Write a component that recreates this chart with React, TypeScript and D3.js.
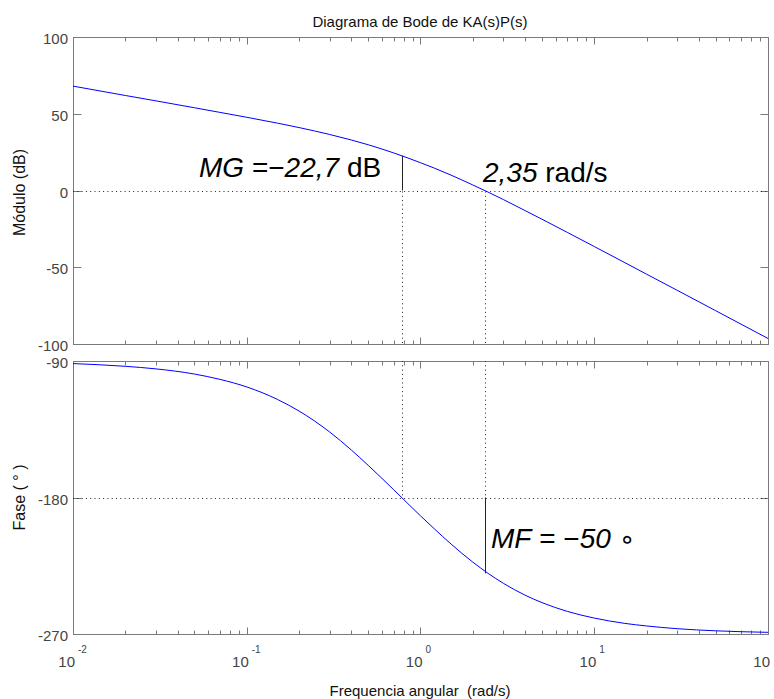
import React from 'react';
import * as d3 from 'd3';

// Frequencies (rad/s) and values
const freq = [0.01, 0.02, 0.03, 0.05, 0.07, 0.1, 0.15, 0.2, 0.3, 0.4, 0.5, 0.7, 1, 1.2, 1.5, 2, 3, 4, 5, 7, 10, 15, 20, 30, 50, 100];
const magDb = [68.0, 61.9, 58.4, 53.9, 50.9, 47.7, 43.9, 41.0, 36.5, 32.9, 29.8, 24.5, 18.1, 14.6, 10.0, 3.6, -5.9, -13.1, -18.7, -27.3, -36.5, -47.0, -54.5, -65.0, -78.3, -96.4];
const phaseDeg = [-91.7, -93.5, -95.2, -98.6, -102.1, -107.1, -115.3, -123.0, -136.8, -148.7, -158.8, -174.8, -192.1, -200.6, -210.7, -222.6, -236.6, -244.4, -249.3, -255.1, -259.5, -263.0, -264.7, -266.5, -267.9, -268.9];

const magTicks = [100, 50, 0, -50, -100];
const phaseTicks = [-90, -180, -270];
const decadeTicks = [0.01, 0.1, 1, 10, 100];
const decadeExponents = ['-2', '-1', '0', '1', '2'];

const phaseCrossFreq = 0.78; // where phase = -180
const magAtPhaseCross = 22.7; // dB
const gainCrossFreq = 2.35; // where |G| = 0 dB
const phaseAtGainCross = -230; // deg

const FONT = '"Liberation Sans", Arial, Helvetica, sans-serif';

export default function App() {
  const W = 774;
  const H = 699;
  const x = d3.scaleLog().domain([0.01, 100]).range([73, 768]);
  const yM = d3.scaleLinear().domain([-100, 100]).range([344, 37]);
  const yP = d3.scaleLinear().domain([-270, -90]).range([634, 361]);

  const minorTicks: number[] = [];
  for (let k = -2; k <= 1; k++) {
    for (let m = 2; m <= 9; m++) minorTicks.push(m * Math.pow(10, k));
  }

  const magLine = d3
    .line<number>()
    .x((_, i) => x(freq[i]))
    .y((d) => yM(d))
    .curve(d3.curveMonotoneX);
  const phaseLine = d3
    .line<number>()
    .x((_, i) => x(freq[i]))
    .y((d) => yP(d))
    .curve(d3.curveMonotoneX);

  const axisColor = '#7a7a7a';
  const tickLabelColor = '#444';
  const r = (v: number) => Math.round(v) + 0.5;

  const panel = (yScale: d3.ScaleLinear<number, number>, ticks: number[], key: string) => {
    const [yb, yt] = yScale.range();
    const x0 = x.range()[0];
    const x1 = x.range()[1];
    return (
      <g key={key}>
        <rect x={r(x0)} y={r(yt)} width={Math.round(x1 - x0)} height={Math.round(yb - yt)} fill="white" stroke={axisColor} strokeWidth={1} />
        {decadeTicks.map((t) => (
          <g key={'M' + t}>
            <line x1={r(x(t))} x2={r(x(t))} y1={r(yb)} y2={r(yb) - 7} stroke={axisColor} />
            <line x1={r(x(t))} x2={r(x(t))} y1={r(yt)} y2={r(yt) + 7} stroke={axisColor} />
          </g>
        ))}
        {minorTicks.map((t) => (
          <g key={'m' + t}>
            <line x1={r(x(t))} x2={r(x(t))} y1={r(yb)} y2={r(yb) - 4} stroke={axisColor} />
            <line x1={r(x(t))} x2={r(x(t))} y1={r(yt)} y2={r(yt) + 4} stroke={axisColor} />
          </g>
        ))}
        {ticks.map((t) => (
          <g key={'y' + t}>
            <line x1={r(x0)} x2={r(x0) + 8} y1={r(yScale(t))} y2={r(yScale(t))} stroke={axisColor} />
            <line x1={r(x1)} x2={r(x1) - 8} y1={r(yScale(t))} y2={r(yScale(t))} stroke={axisColor} />
            <text x={68} y={yScale(t) + 1.5} textAnchor="end" dominantBaseline="central" fontSize={15} fill={tickLabelColor} fontFamily={FONT}>
              {t}
            </text>
          </g>
        ))}
      </g>
    );
  };

  const dot = { stroke: '#222', strokeWidth: 1, strokeDasharray: '1,3.3' };

  return (
    <svg width={W} height={H} style={{ position: 'absolute', left: 0, top: 0, background: 'white' }} fontFamily={FONT}>
      <rect width={W} height={H} fill="white" />
      {panel(yM, magTicks, 'mag')}
      {panel(yP, phaseTicks, 'phase')}

      {/* reference dotted lines */}
      <line x1={x.range()[0]} x2={x.range()[1]} y1={r(yM(0))} y2={r(yM(0))} {...dot} />
      <line x1={x.range()[0]} x2={x.range()[1]} y1={r(yP(-180))} y2={r(yP(-180))} {...dot} />
      {[phaseCrossFreq, gainCrossFreq].map((f) => (
        <g key={'v' + f}>
          <line x1={r(x(f))} x2={r(x(f))} y1={r(yM(0))} y2={yM.range()[0]} {...dot} />
          <line x1={r(x(f))} x2={r(x(f))} y1={yP.range()[1]} y2={r(yP(-180))} {...dot} />
        </g>
      ))}
      {/* margin markers */}
      <line x1={r(x(phaseCrossFreq))} x2={r(x(phaseCrossFreq))} y1={yM(0)} y2={yM(magAtPhaseCross)} stroke="#222" strokeWidth={1} />
      <line x1={r(x(gainCrossFreq))} x2={r(x(gainCrossFreq))} y1={yP(-180)} y2={yP(phaseAtGainCross)} stroke="#222" strokeWidth={1} />

      {/* curves */}
      <path d={magLine(magDb) || ''} fill="none" stroke="#0000ff" strokeWidth={1} />
      <path d={phaseLine(phaseDeg) || ''} fill="none" stroke="#0000ff" strokeWidth={1} />

      {/* x tick labels (the last exponent falls outside the figure, as in the original) */}
      {decadeTicks.map((t, i) => (
        <g key={'xl' + t}>
          <text x={x(t) + 2} y={667} textAnchor="end" fontSize={15} fill={tickLabelColor}>10</text>
          {x(t) + 12 < W ? (
            <text x={x(t) + 5} y={653} textAnchor="start" fontSize={10} fill={tickLabelColor}>{decadeExponents[i]}</text>
          ) : null}
        </g>
      ))}

      {/* titles */}
      <text x={420} y={27} textAnchor="middle" fontSize={15} fill="#111">Diagrama de Bode de KA(s)P(s)</text>
      <text x={420} y={696} textAnchor="middle" fontSize={15} fill="#111" style={{ whiteSpace: 'pre' }}>Frequencia angular  (rad/s)</text>
      <text transform={`translate(25,${yM(0) + 2}) rotate(-90)`} textAnchor="middle" fontSize={16} fill="#111">Módulo (dB)</text>
      <text transform={`translate(25,${yP(-180)}) rotate(-90)`} textAnchor="middle" fontSize={16} fill="#111">Fase ( ° )</text>

      {/* annotations */}
      <text x={199} y={177} fontSize={28} fill="#000">
        <tspan fontStyle="italic">MG</tspan>
        <tspan> =</tspan>
        <tspan>−</tspan>
        <tspan fontStyle="italic">22,7</tspan>
        <tspan> dB</tspan>
      </text>
      <text x={483} y={182} fontSize={28} fill="#000">
        <tspan fontStyle="italic">2,35</tspan>
        <tspan> rad/s</tspan>
      </text>
      <text x={491} y={548} fontSize={28} fill="#000">
        <tspan fontStyle="italic">MF</tspan>
        <tspan> = −</tspan>
        <tspan fontStyle="italic">50</tspan>
        <tspan fontFamily='"DejaVu Sans", sans-serif' fontSize={26}> ∘</tspan>
      </text>
    </svg>
  );
}
